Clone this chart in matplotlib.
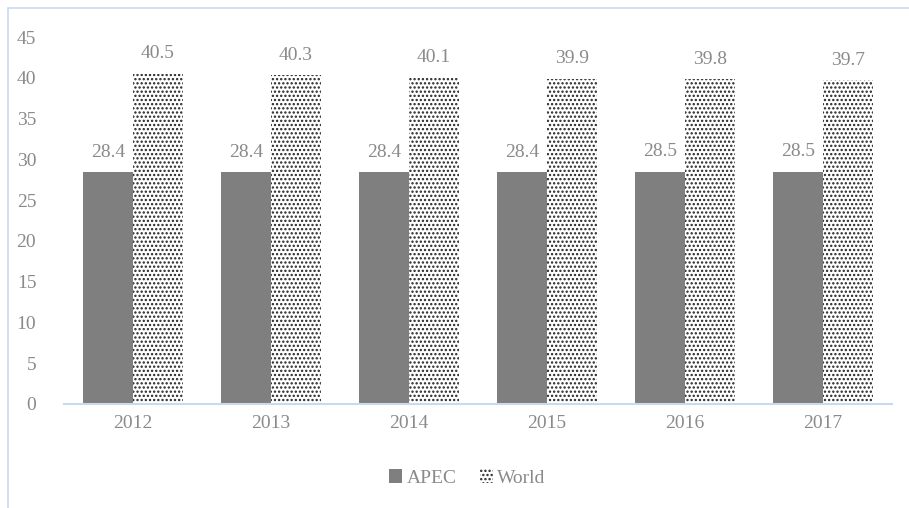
import matplotlib
matplotlib.use("Agg")
import matplotlib.pyplot as plt
from matplotlib.patches import Rectangle
import numpy as np

years = ["2012", "2013", "2014", "2015", "2016", "2017"]
apec = [28.4, 28.4, 28.4, 28.4, 28.5, 28.5]
world = [40.5, 40.3, 40.1, 39.9, 39.8, 39.7]

text_grey = "#8a8a8a"
frame_blue = "#c9d9ee"

plt.rcParams["font.family"] = ["Liberation Serif", "DejaVu Serif"]
plt.rcParams["hatch.linewidth"] = 1.1

fig = plt.figure(figsize=(9.09, 5.08), dpi=100)
fig.patch.set_facecolor("white")

# thin chart-area frame (top and left edges only visible)
fig.add_artist(Rectangle((8 / 909, -0.05), 1.2, (508 - 8) / 508 + 0.05, transform=fig.transFigure,
                         fill=False, edgecolor=frame_blue, linewidth=1.2))

ax = fig.add_axes([64 / 909, 104 / 508, (892 - 64) / 909, (404 - 37) / 508])
x = np.arange(len(years))
w = 0.362
b1 = ax.bar(x - w / 2, apec, w, color="#7f7f7f", linewidth=0, label="APEC")
b2 = ax.bar(x + w / 2, world, w, color="white", edgecolor="#222222", hatch="....", linewidth=0, label="World")

for rect, v in zip(b1, apec):
    ax.text(rect.get_x() + rect.get_width() / 2, v + 1.4, f"{v:.1f}", ha="center", va="bottom",
            fontsize=14, color=text_grey)
for rect, v in zip(b2, world):
    ax.text(rect.get_x() + rect.get_width() / 2, v + 1.4, f"{v:.1f}", ha="center", va="bottom",
            fontsize=14, color=text_grey)

ax.set_xlim(-0.5, len(years) - 0.5)
ax.set_ylim(0, 45)
ax.set_yticks(range(0, 46, 5))
ax.set_xticks(x)
ax.set_xticklabels(years)
ax.tick_params(axis="both", length=0, labelsize=14, labelcolor=text_grey)
ax.tick_params(axis="y", pad=20)
ax.tick_params(axis="x", pad=8)
for side in ("top", "right", "left"):
    ax.spines[side].set_visible(False)
ax.spines["bottom"].set_color(frame_blue)
ax.spines["bottom"].set_linewidth(1.5)

leg = fig.legend(handles=[b1, b2], loc="center", bbox_to_anchor=(0.514, (508 - 478) / 508),
                 ncol=2, frameon=False, fontsize=14, handlelength=0.7, handleheight=0.7,
                 handletextpad=0.2, columnspacing=1.2)
for t in leg.get_texts():
    t.set_color(text_grey)

fig.savefig("out.png", dpi=100)
